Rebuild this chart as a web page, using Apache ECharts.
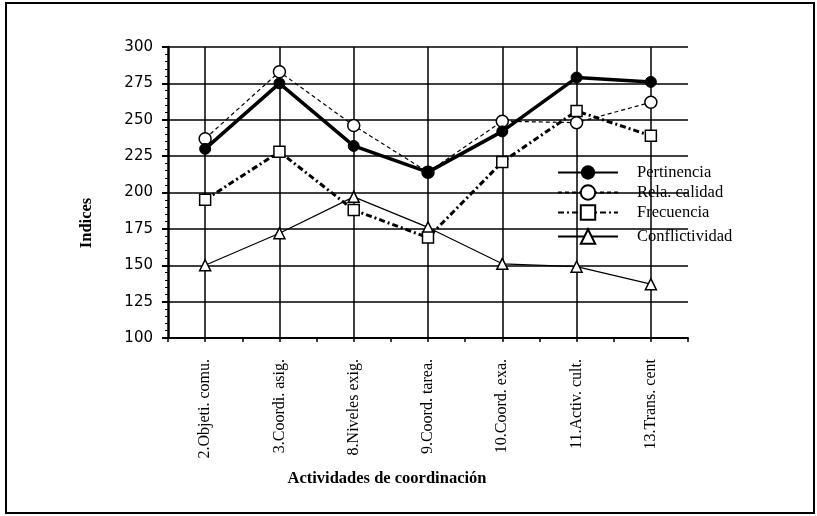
<!DOCTYPE html>
<html><head><meta charset="utf-8">
<script src="https://cdn.jsdelivr.net/npm/echarts@6/dist/echarts.min.js"></script>
<style>html,body{margin:0;padding:0;background:#fff}#c{width:817px;height:516px}</style>
</head><body><div id="c"></div>
<script>
const categories = ['2.Objeti. comu.','3.Coordi. asig.','8.Niveles exig.','9.Coord. tarea.','10.Coord. exa.','11.Activ. cult.','13.Trans. cent'];
const pertinencia = [230, 275, 232, 214, 242, 279, 276];
const relaCalidad = [237, 283, 246, 214, 249, 248, 262];
const frecuencia = [195, 228, 188, 169, 221, 256, 239];
const conflictividad = [150, 172, 197, 176, 151, 149, 137];
const yTicks = {min: 100, max: 300, interval: 25};
const seriesNames = ['Pertinencia','Rela. calidad','Frecuencia','Conflictividad'];

const serif = 'Liberation Serif';
const chart = echarts.init(document.getElementById('c'), null, {renderer: 'canvas'});

function legendAt(name, top) {
  return {
    data: [name], left: 557, top: top, orient: 'vertical',
    itemWidth: 60, itemHeight: 18, itemGap: 0, padding: 0,
    selectedMode: false,
    textStyle: {fontFamily: serif, fontSize: 16.5, color: '#000', padding: [0, 0, 0, 14]}
  };
}

const option = {
  animation: false,
  backgroundColor: '#fff',
  grid: {left: 168, right: 129, top: 47, bottom: 178},
  legend: [
    legendAt(seriesNames[0], 164),
    legendAt(seriesNames[1], 184),
    legendAt(seriesNames[2], 204),
    legendAt(seriesNames[3], 228)
  ],
  xAxis: [{
    type: 'category', data: categories, boundaryGap: true,
    axisLine: {lineStyle: {color: '#000', width: 2}},
    axisTick: {alignWithLabel: true, length: 6, lineStyle: {color: '#000', width: 2}},
    axisLabel: {rotate: 90, margin: 21, fontFamily: serif, fontSize: 16, color: '#000'},
    splitLine: {show: false}
  }, {
    type: 'value', min: 0, max: 14, interval: 1, position: 'bottom',
    axisLine: {show: false},
    axisTick: {show: true, length: 4, lineStyle: {color: '#000', width: 1.5}},
    axisLabel: {show: false},
    splitLine: {show: true, lineStyle: {color: ['rgba(0,0,0,0)', '#000'], width: 1.5}}
  }],
  yAxis: {
    type: 'value', min: yTicks.min, max: yTicks.max, interval: yTicks.interval,
    axisLine: {show: true, lineStyle: {color: '#000', width: 2.5}},
    axisTick: {show: true, length: 6, lineStyle: {color: '#000', width: 2}},
    minorTick: {show: true, splitNumber: 5, length: 3, lineStyle: {color: '#000', width: 1}},
    axisLabel: {fontFamily: 'DejaVu Sans', fontSize: 15, color: '#000', margin: 15},
    splitLine: {show: true, lineStyle: {color: '#000', width: 1.5}}
  },
  series: [{
    name: seriesNames[0], type: 'line', data: pertinencia, z: 5,
    symbol: 'circle', symbolSize: 11,
    lineStyle: {color: '#000', width: 3.5},
    itemStyle: {color: '#000', borderColor: '#000'}
  }, {
    name: seriesNames[1], type: 'line', data: relaCalidad, z: 4,
    symbol: 'circle', symbolSize: 12,
    lineStyle: {color: '#000', width: 1.2, type: [4, 3]},
    itemStyle: {color: '#fff', borderColor: '#000', borderWidth: 1.5}
  }, {
    name: seriesNames[2], type: 'line', data: frecuencia, z: 3,
    symbol: 'rect', symbolSize: 11,
    lineStyle: {color: '#000', width: 3, type: [6, 3, 2, 3]},
    itemStyle: {color: '#fff', borderColor: '#000', borderWidth: 1.5}
  }, {
    name: seriesNames[3], type: 'line', data: conflictividad, z: 2,
    symbol: 'triangle', symbolSize: 11,
    lineStyle: {color: '#000', width: 1.2},
    itemStyle: {color: '#fff', borderColor: '#000', borderWidth: 1.5}
  }],
  graphic: [{
    type: 'rect', shape: {x: 6, y: 3, width: 808, height: 510},
    style: {fill: 'none', stroke: '#000', lineWidth: 2}, silent: true, z: -1
  }, {
    type: 'text', x: 87, y: 223, rotation: Math.PI / 2,
    style: {text: 'Indices', fontFamily: serif, fontWeight: 'bold', fontSize: 16.5, fill: '#000', align: 'center', verticalAlign: 'middle'}
  }, {
    type: 'text', x: 387, y: 479,
    style: {text: 'Actividades de coordinación', fontFamily: serif, fontWeight: 'bold', fontSize: 16.5, fill: '#000', align: 'center', verticalAlign: 'middle'}
  }]
};
chart.setOption(option);
</script></body></html>
